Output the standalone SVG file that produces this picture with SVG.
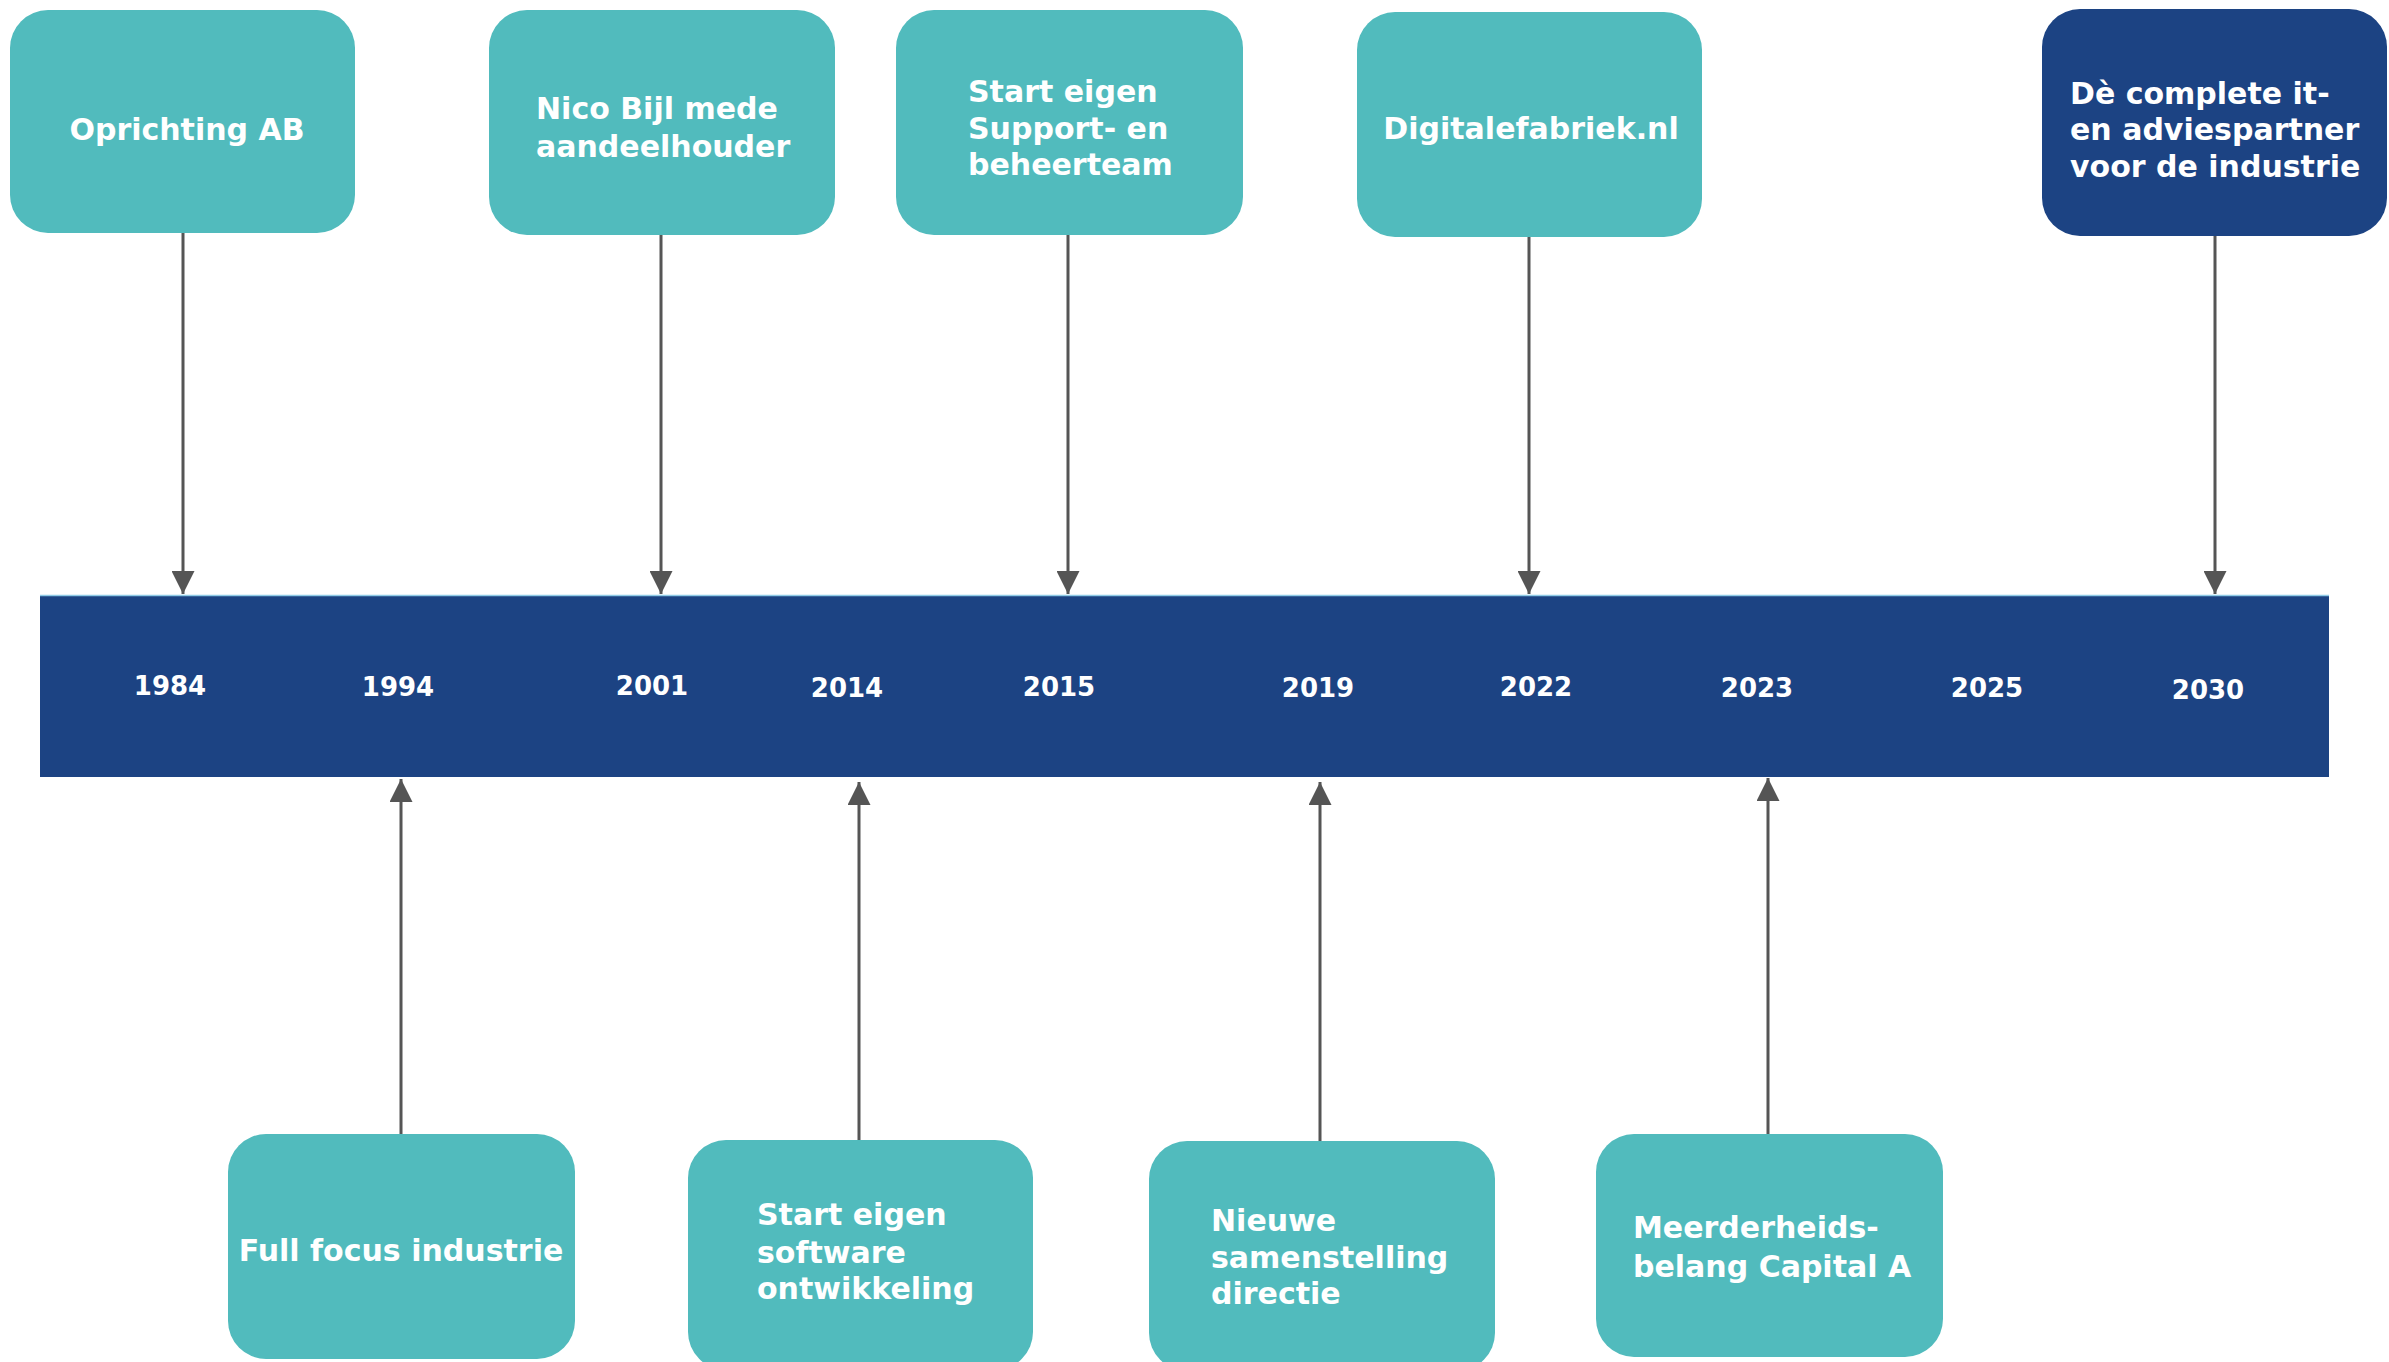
<svg xmlns="http://www.w3.org/2000/svg" width="2389" height="1362" viewBox="0 0 2389 1362">
  <style>
    .teal { fill: #51BBBD; }
    .navy { fill: #1C4383; }
    .lbl { font-family: "DejaVu Sans", "Liberation Sans", sans-serif; font-weight: bold; font-size: 30px; fill: #FFFFFF; }
    .yr { font-family: "DejaVu Sans", "Liberation Sans", sans-serif; font-weight: bold; font-size: 26px; fill: #FFFFFF; text-anchor: middle; }
    .conn { stroke: #555555; stroke-width: 3; fill: none; marker-end: url(#arrow); }
  </style>
  <defs>
    <marker id="arrow" viewBox="0 0 24 24" refX="24" refY="12" markerWidth="23" markerHeight="23" markerUnits="userSpaceOnUse" orient="auto">
      <path d="M0,0 L24,12 L0,24 Z" fill="#555555"/>
    </marker>
  </defs>
  <rect width="2389" height="1362" fill="#FFFFFF"/>

  <g id="timeline-bar">
    <rect x="40" y="595" width="2289" height="182" class="navy"/>
    <line x1="40" y1="595.5" x2="2329" y2="595.5" stroke="#8FCBE6" stroke-width="1.5"/>
    <text class="yr" x="170" y="695">1984</text>
    <text class="yr" x="398" y="696">1994</text>
    <text class="yr" x="652" y="695">2001</text>
    <text class="yr" x="847" y="697">2014</text>
    <text class="yr" x="1059" y="696">2015</text>
    <text class="yr" x="1318" y="697">2019</text>
    <text class="yr" x="1536" y="696">2022</text>
    <text class="yr" x="1757" y="697">2023</text>
    <text class="yr" x="1987" y="697">2025</text>
    <text class="yr" x="2208" y="699">2030</text>
  </g>

  <g id="connectors">
    <line class="conn" x1="183" y1="233" x2="183" y2="594"/>
    <line class="conn" x1="661" y1="235" x2="661" y2="594"/>
    <line class="conn" x1="1068" y1="235" x2="1068" y2="594"/>
    <line class="conn" x1="1529" y1="237" x2="1529" y2="594"/>
    <line class="conn" x1="2215" y1="236" x2="2215" y2="594"/>
    <line class="conn" x1="401" y1="1134" x2="401" y2="779"/>
    <line class="conn" x1="859" y1="1140" x2="859" y2="782"/>
    <line class="conn" x1="1320" y1="1141" x2="1320" y2="782"/>
    <line class="conn" x1="1768" y1="1134" x2="1768" y2="778"/>
  </g>

  <g id="node-1984">
    <rect x="10" y="10" width="345" height="223" rx="38" class="teal"/>
    <text class="lbl" x="187" y="140" text-anchor="middle">Oprichting AB</text>
  </g>

  <g id="node-2001">
    <rect x="489" y="10" width="346" height="225" rx="38" class="teal"/>
    <text class="lbl" x="536" y="119">Nico Bijl mede</text>
    <text class="lbl" x="536" y="157">aandeelhouder</text>
  </g>

  <g id="node-2015">
    <rect x="896" y="10" width="347" height="225" rx="38" class="teal"/>
    <text class="lbl" x="968" y="102">Start eigen</text>
    <text class="lbl" x="968" y="139">Support- en</text>
    <text class="lbl" x="968" y="175">beheerteam</text>
  </g>

  <g id="node-2022">
    <rect x="1357" y="12" width="345" height="225" rx="38" class="teal"/>
    <text class="lbl" x="1531" y="139" text-anchor="middle">Digitalefabriek.nl</text>
  </g>

  <g id="node-2030">
    <rect x="2042" y="9" width="345" height="227" rx="38" class="navy"/>
    <text class="lbl" x="2070" y="104">Dè complete it-</text>
    <text class="lbl" x="2070" y="140">en adviespartner</text>
    <text class="lbl" x="2070" y="177">voor de industrie</text>
  </g>

  <g id="node-1994">
    <rect x="228" y="1134" width="347" height="225" rx="38" class="teal"/>
    <text class="lbl" x="401" y="1261" text-anchor="middle">Full focus industrie</text>
  </g>

  <g id="node-2014">
    <rect x="688" y="1140" width="345" height="230" rx="38" class="teal"/>
    <text class="lbl" x="757" y="1225">Start eigen</text>
    <text class="lbl" x="757" y="1263">software</text>
    <text class="lbl" x="757" y="1299">ontwikkeling</text>
  </g>

  <g id="node-2019">
    <rect x="1149" y="1141" width="346" height="230" rx="38" class="teal"/>
    <text class="lbl" x="1211" y="1231">Nieuwe</text>
    <text class="lbl" x="1211" y="1268">samenstelling</text>
    <text class="lbl" x="1211" y="1304">directie</text>
  </g>

  <g id="node-2023">
    <rect x="1596" y="1134" width="347" height="223" rx="38" class="teal"/>
    <text class="lbl" x="1633" y="1238">Meerderheids-</text>
    <text class="lbl" x="1633" y="1277">belang Capital A</text>
  </g>
</svg>
